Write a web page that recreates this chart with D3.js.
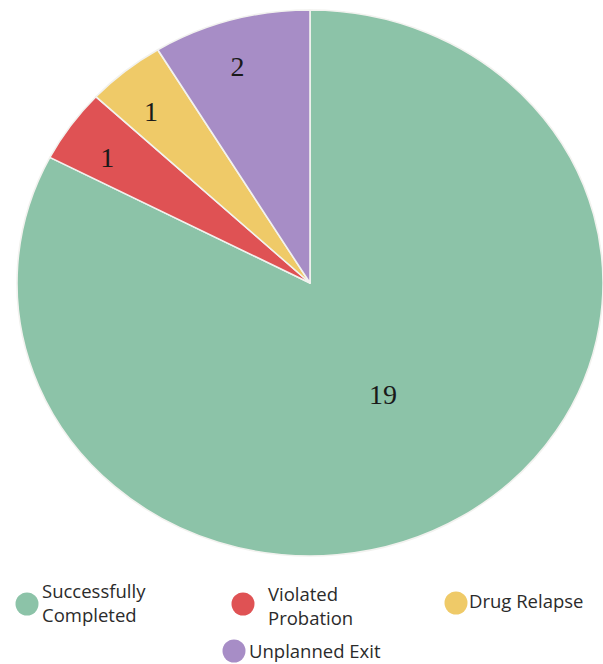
<!DOCTYPE html>
<html>
<head>
<meta charset="utf-8">
<script src="https://cdn.jsdelivr.net/npm/d3@7/dist/d3.min.js"></script>
<style>
  html, body { margin: 0; padding: 0; background: #ffffff; }
  svg { display: block; }
</style>
</head>
<body>
<svg id="chart" width="603" height="664"></svg>
<script>
const categories = ["Successfully Completed", "Violated Probation", "Drug Relapse", "Unplanned Exit"];
const values = [19, 1, 1, 2];
const colors = ["#8CC3A8", "#DF5254", "#EFCA68", "#A78DC6"];
const legendLines = [["Successfully", "Completed"], ["Violated", "Probation"], ["Drug Relapse"], ["Unplanned Exit"]];

const svg = d3.select("#chart");
const cx = 310, cy = 283, R = 273, sx = 293 / 273;

const data = categories.map((c, i) => ({ name: c, value: values[i], color: colors[i] }));
const pie = d3.pie().value(d => d.value).sort(null);
const arcs = pie(data);
const arc = d3.arc().innerRadius(0).outerRadius(R);

const g = svg.append("g").attr("transform", `translate(${cx},${cy}) scale(${sx},1)`);
g.selectAll("path").data(arcs).join("path")
  .attr("d", arc)
  .attr("fill", d => d.data.color)
  .attr("stroke", "#f2f2ef")
  .attr("stroke-width", 1.5)
  .attr("stroke-linejoin", "round");

const total = d3.sum(values);
const labelG = svg.append("g").attr("transform", `translate(${cx},${cy})`);
labelG.selectAll("text").data(arcs).join("text")
  .attr("transform", d => {
    const frac = d.data.value / total;
    const big = frac > 0.5;
    const rr = big ? R * 0.48 : R * 0.83;
    const a = (d.startAngle + d.endAngle) / 2 - (big ? 0 : 0.03);
    const x = Math.sin(a) * rr * sx;
    const y = -Math.cos(a) * rr;
    return `translate(${x},${y})`;
  })
  .attr("text-anchor", "middle")
  .attr("dominant-baseline", "central")
  .attr("font-family", "'Liberation Serif', 'DejaVu Serif', serif")
  .attr("font-size", 28)
  .attr("fill", "#1a1a1a")
  .text(d => d.data.value);

// Legend
const legendPos = [
  { mx: 27, my: 604, tx: 42, ty: 592 },
  { mx: 243, my: 604, tx: 268, ty: 595 },
  { mx: 456, my: 603, tx: 469, ty: 602 },
  { mx: 234, my: 651, tx: 249, ty: 652 }
];
const leg = svg.append("g");
data.forEach((d, i) => {
  const p = legendPos[i];
  leg.append("circle").attr("cx", p.mx).attr("cy", p.my).attr("r", 11.5).attr("fill", d.color);
  const t = leg.append("text")
    .attr("font-family", "'Open Sans', 'Noto Sans', sans-serif")
    .attr("font-size", 18.5)
    .attr("fill", "#2b2b2b");
  legendLines[i].forEach((line, j) => {
    t.append("tspan").attr("x", p.tx).attr("y", p.ty + j * 24).attr("dy", "0.35em").text(line);
  });
});
</script>
</body>
</html>
